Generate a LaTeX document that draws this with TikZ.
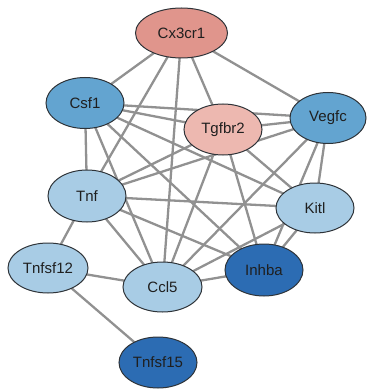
\documentclass[tikz,border=0pt]{standalone}
\usepackage{fontspec}
\setmainfont{Liberation Sans}
\usetikzlibrary{shapes.geometric,backgrounds}
\definecolor{salmon}{HTML}{E0958C}
\definecolor{pinkn}{HTML}{EDB8B0}
\definecolor{medblue}{HTML}{63A4D0}
\definecolor{lightblue}{HTML}{A8CCE5}
\definecolor{darkblue}{HTML}{2C6CB3}
\definecolor{edgegray}{HTML}{919191}
\definecolor{bordergray}{HTML}{2E3338}
\begin{document}
\begin{tikzpicture}[x=1pt,y=-1pt,
  gene/.style={ellipse,draw=bordergray,line width=1pt,minimum width=78pt,minimum height=51pt,inner sep=0pt,
    font=\fontsize{15}{17}\selectfont,text=black!88},
  link/.style={draw=edgegray,line width=2.3pt}]
\useasboundingbox (0,0) rectangle (368,390);
\node[gene,fill=salmon,minimum width=92pt,minimum height=50pt] (cx) at (181.5,33) {Cx3cr1};
\node[gene,fill=medblue] (csf) at (85,103) {Csf1};
\node[gene,fill=pinkn] (tg) at (223,129.5) {Tgfbr2};
\node[gene,fill=medblue,minimum width=76pt] (ve) at (328,118) {Vegfc};
\node[gene,fill=lightblue,minimum height=52pt] (tnf) at (87,196) {Tnf};
\node[gene,fill=lightblue,minimum height=50pt] (ki) at (315,208) {Kitl};
\node[gene,fill=lightblue,minimum width=80pt,minimum height=50pt] (t12) at (48,268) {Tnfsf12};
\node[gene,fill=lightblue,minimum width=79pt,minimum height=50pt] (cc) at (162.5,287) {Ccl5};
\node[gene,fill=darkblue,minimum height=52pt] (in) at (264,270) {Inhba};
\node[gene,fill=darkblue] (t15) at (158,362.5) {Tnfsf15};
\begin{pgfonlayer}{background}
\foreach \a/\b in {cx/csf,cx/tnf,cx/cc,cx/tg,cx/ve,
  csf/tg,csf/ve,csf/tnf,csf/ki,csf/in,csf/cc,
  tg/ve,tg/tnf,tg/ki,tg/cc,tg/in,
  ve/tnf,ve/ki,ve/cc,ve/in,
  tnf/ki,tnf/cc,tnf/in,tnf/t12,
  ki/cc,ki/in,
  cc/in,cc/t12,
  t12/t15}
  \draw[link] (\a.center) -- (\b.center);
\end{pgfonlayer}
\end{tikzpicture}
\end{document}
